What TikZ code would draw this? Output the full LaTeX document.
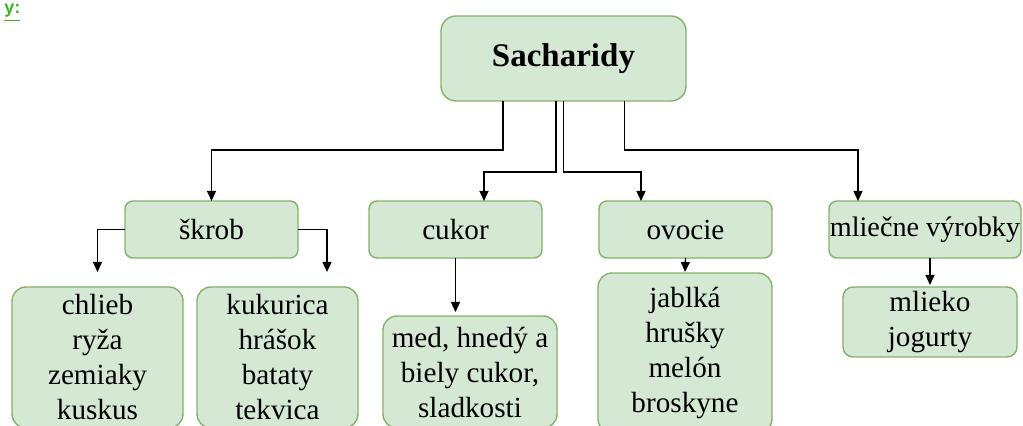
\documentclass[tikz,border=0pt]{standalone}
\usepackage{fontspec}
\setmainfont{Liberation Serif}
\setsansfont{Liberation Sans}
\usetikzlibrary{arrows.meta}
\definecolor{boxfill}{HTML}{D5E8D4}
\definecolor{boxline}{HTML}{82B366}
\definecolor{headgreen}{HTML}{3DB523}

\begin{document}
\begin{tikzpicture}[x=0.5pt, y=-0.5pt,
BoxStyle/.style={draw=boxline, fill=boxfill, line width=0.7pt, rounded corners=4pt,
                inner sep=0pt, outer sep=0pt, align=center,
                font=\fontsize{14.6}{17.5}\selectfont},
ArrStyle/.style={line width=0.65pt, -{Triangle[length=5pt, width=4.5pt]}},]
\useasboundingbox (0,0) rectangle (1023,426);
\clip (0,0) rectangle (1023,426);
\node [text=headgreen, font=\sffamily\bfseries\fontsize{9}{10}\selectfont, anchor=north west, inner sep=1pt] (head) at (2,2) {\underline{y:}};

\node [BoxStyle, rounded corners=7.5pt, minimum width=122.5pt, minimum height=42.5pt,
       font=\bfseries\fontsize{16.5}{20}\selectfont] (root) at (563.5, 58.5) {Sacharidy};

\node [BoxStyle, minimum width=86.5pt, minimum height=28.5pt] (skrob) at (211.5, 229.5) {škrob};
\node [BoxStyle, minimum width=86.5pt, minimum height=28.5pt] (cukor) at (455.5, 229.5) {cukor};
\node [BoxStyle, minimum width=86.5pt, minimum height=28.5pt] (ovocie) at (685.5, 229.5) {ovocie};
\node [BoxStyle, minimum width=96pt, minimum height=28.5pt,
       font=\fontsize{14.1}{17.5}\selectfont] (mliecne) at (925, 229.5) {mliečne výrobky};

\node [BoxStyle, rounded corners=7pt, minimum width=85.5pt, minimum height=70.5pt] (chlieb) at (97.5, 357.5) {chlieb\\ryža\\zemiaky\\kuskus};
\node [BoxStyle, rounded corners=7pt, minimum width=80.5pt, minimum height=70.5pt] (kukurica) at (277.5, 357.5) {kukurica\\hrášok\\bataty\\tekvica};
\node [BoxStyle, rounded corners=7pt, minimum width=87pt, minimum height=56pt] (med) at (470, 372) {med, hnedý a\\biely cukor,\\sladkosti};
\node [BoxStyle, rounded corners=7pt, minimum width=87pt, minimum height=80pt] (jablka) at (685, 353) {jablká\\hrušky\\melón\\broskyne};
\node [BoxStyle, rounded corners=5pt, minimum width=87pt, minimum height=35pt] (mlieko) at (930, 322) {mlieko\\jogurty};

\draw [ArrStyle] ([xshift=-30.25pt]root.south) -- ++(0,49) -| (skrob.north);
\draw [ArrStyle] ([xshift=-3.75pt]root.south) -- ++(0,71) -| ([xshift=14.25pt]cukor.north);
\draw [ArrStyle] ([xshift=0pt]root.south) -- ++(0,71) -| ([xshift=-22.25pt]ovocie.north);
\draw [ArrStyle] ([xshift=30.5pt]root.south) -- ++(0,49) -| ([xshift=-33.5pt]mliecne.north);

\draw [ArrStyle] (skrob.west) -| ([yshift=7.5pt]chlieb.north);
\draw [ArrStyle] (skrob.east) -| ([xshift=24.75pt, yshift=7.5pt]kukurica.north);
\draw [ArrStyle, shorten >=2pt] (cukor.south) -- (cukor.south |- med.north);
\draw [ArrStyle] (ovocie.south) -- ([yshift=0.5pt]jablka.north);
\draw [ArrStyle, shorten >=1pt] (mlieko.north |- mliecne.south) -- (mlieko.north);
\end{tikzpicture}
\end{document}
